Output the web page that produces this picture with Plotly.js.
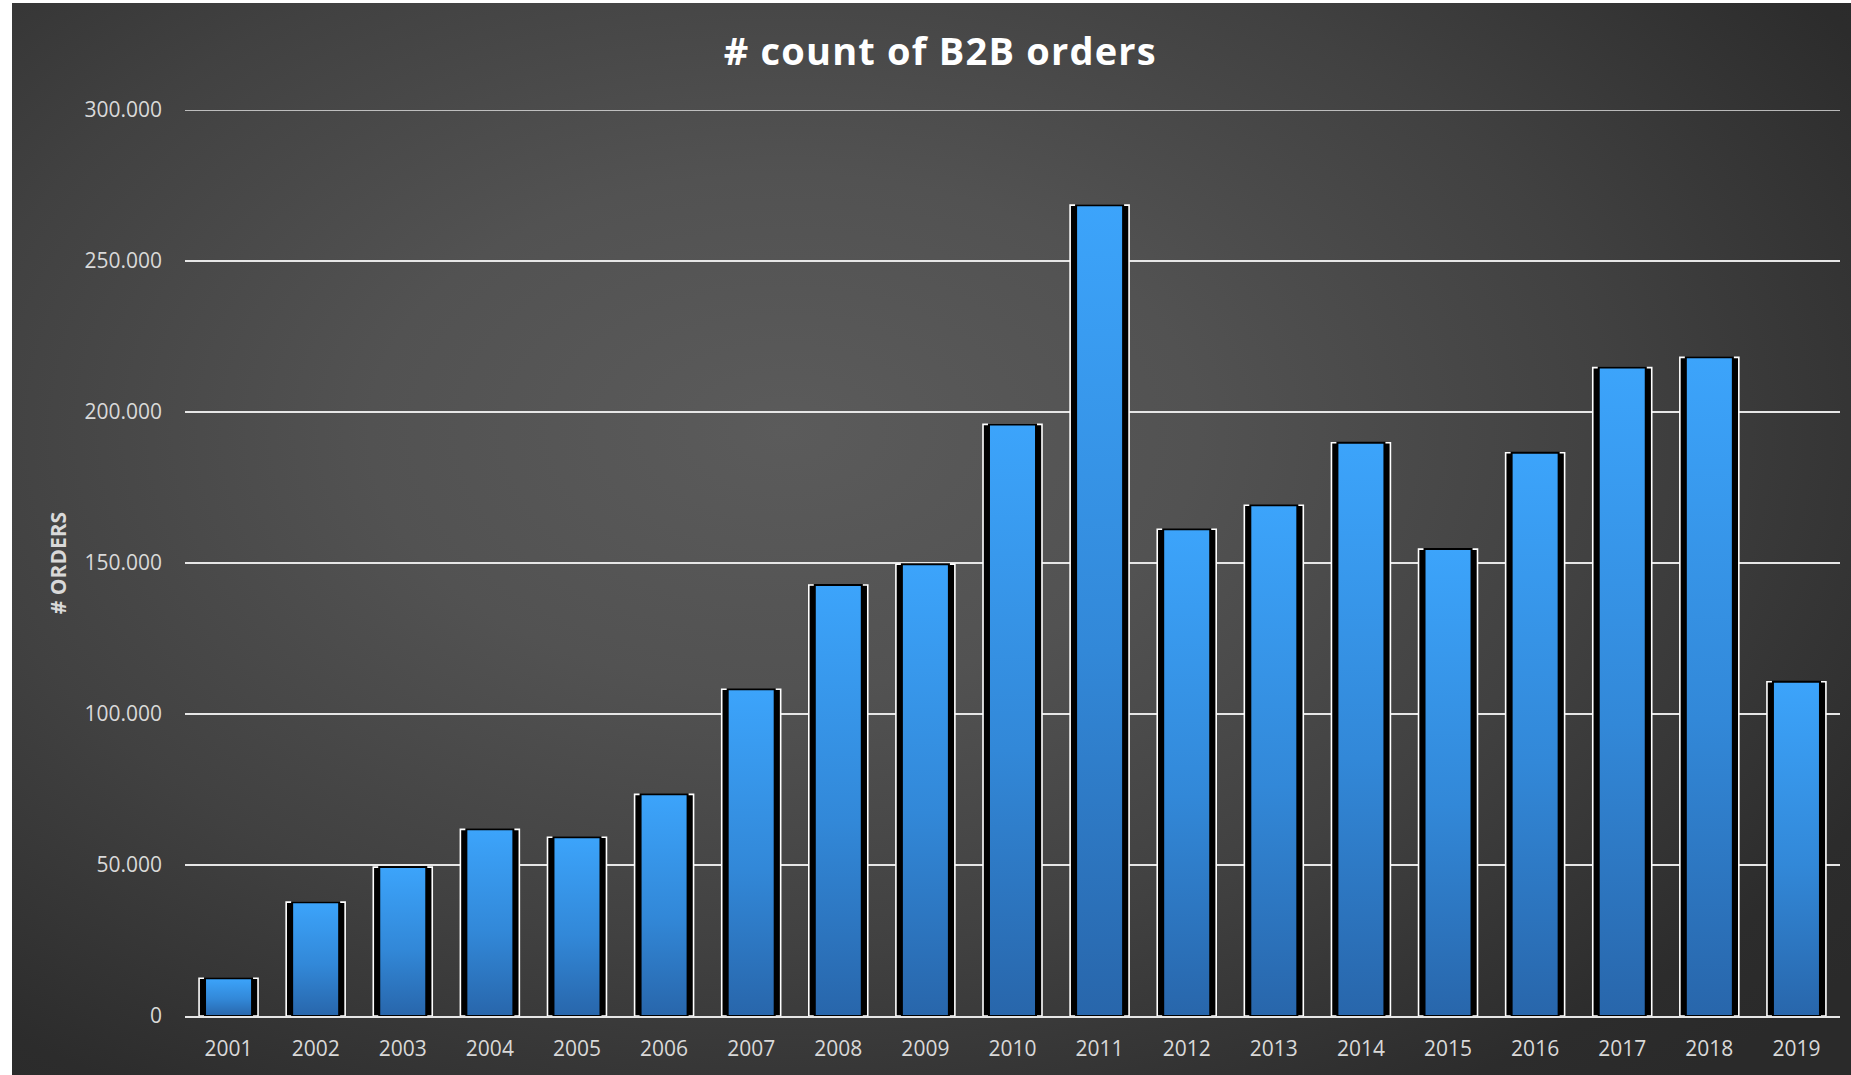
<!DOCTYPE html>
<html>
<head>
<meta charset="utf-8">
<script src="https://cdn.plot.ly/plotly-3.0.1.min.js"></script>
<style>
  html, body { margin: 0; padding: 0; background: #ffffff; width: 1851px; height: 1075px; overflow: hidden; }
  #bg { position: absolute; left: 12px; top: 3px; width: 1839px; height: 1072px;
        background: radial-gradient(ellipse 75% 80% at 42% 40%, #5b5b5b 0%, #525252 30%, #414141 60%, #2c2c2c 90%, #2a2a2a 100%); }
  #chart { position: absolute; left: 0; top: 0; width: 1851px; height: 1075px; }
</style>
</head>
<body>
<div id="bg"></div>
<div id="chart"></div>
<script>
const years = ["2001","2002","2003","2004","2005","2006","2007","2008","2009","2010",
               "2011","2012","2013","2014","2015","2016","2017","2018","2019"];
const orders = [12500, 37700, 49300, 61800, 59200, 73400, 108200, 142700, 149600, 195900,
                268500, 161200, 169100, 189800, 154600, 186500, 214700, 218100, 110700];
const yTicks = [0, 50000, 100000, 150000, 200000, 250000, 300000];

const textColor = '#d9d9d9';
const font = 'Open Sans, Noto Sans, sans-serif';
const gridColor = '#e6e6e6';

const outer = {
  type: 'bar', x: years, y: orders, width: 0.677,
  marker: { color: '#000000', line: { color: '#ffffff', width: 1.6 } },
  hoverinfo: 'skip', showlegend: false
};
const inner = {
  type: 'bar', x: years, y: orders, width: 0.54,
  marker: { color: '#3390e4', line: { color: '#000000', width: 2 } },
  hoverinfo: 'x+y', showlegend: false
};

const layout = {
  width: 1851, height: 1075,
  paper_bgcolor: 'rgba(0,0,0,0)', plot_bgcolor: 'rgba(0,0,0,0)',
  margin: { l: 185, r: 11, t: 110, b: 59 },
  barmode: 'overlay',
  separators: ',.',
  title: {
    text: '# count of B2B orders',
    font: { family: font, size: 38, color: '#ffffff', weight: 'bold' },
    x: 0.508, xref: 'container', xanchor: 'center',
    y: 1 - 52/1075, yref: 'container', yanchor: 'middle'
  },
  xaxis: {
    type: 'category', categoryorder: 'array', categoryarray: years,
    showline: true, linecolor: gridColor, linewidth: 2,
    showgrid: false, ticks: '', ticklabelstandoff: 13,
    tickfont: { family: font, size: 21, color: textColor }
  },
  yaxis: {
    range: [0, 300000], tickvals: yTicks, tickformat: ',d',
    showgrid: true, gridcolor: gridColor, gridwidth: 1.6,
    zeroline: false, showline: false, ticks: '', ticklabelstandoff: 22,
    tickfont: { family: font, size: 21, color: textColor },
    title: { text: '# ORDERS', standoff: 12,
             font: { family: font, size: 21, color: textColor, weight: 'bold' } }
  },
  shapes: [{
    type: 'line', xref: 'paper', x0: 0, x1: 1, yref: 'y', y0: yTicks[yTicks.length - 1], y1: yTicks[yTicks.length - 1],
    line: { color: gridColor, width: 1.6 }, layer: 'below'
  }]
};

Plotly.newPlot('chart', [outer, inner], layout, { displayModeBar: false, staticPlot: true }).then(function (gd) {
  const svg = gd.querySelector('svg.main-svg');
  const ns = 'http://www.w3.org/2000/svg';
  let defs = svg.querySelector('defs');
  if (!defs) { defs = document.createElementNS(ns, 'defs'); svg.insertBefore(defs, svg.firstChild); }
  const grad = document.createElementNS(ns, 'linearGradient');
  grad.setAttribute('id', 'barGrad');
  grad.setAttribute('x1', '0'); grad.setAttribute('y1', '0');
  grad.setAttribute('x2', '0'); grad.setAttribute('y2', '1');
  [['0%', '#3ca4fb'], ['55%', '#3288d8'], ['100%', '#2866ab']].forEach(function (s) {
    const st = document.createElementNS(ns, 'stop');
    st.setAttribute('offset', s[0]); st.setAttribute('stop-color', s[1]);
    grad.appendChild(st);
  });
  defs.appendChild(grad);
  const traces = gd.querySelectorAll('.barlayer .trace');
  if (traces.length > 1) {
    traces[1].querySelectorAll('path').forEach(function (p) { p.style.fill = 'url(#barGrad)'; });
  }
  gd.querySelectorAll('.gtitle').forEach(function (t) { t.style.letterSpacing = '1.2px'; });
});
</script>
</body>
</html>
